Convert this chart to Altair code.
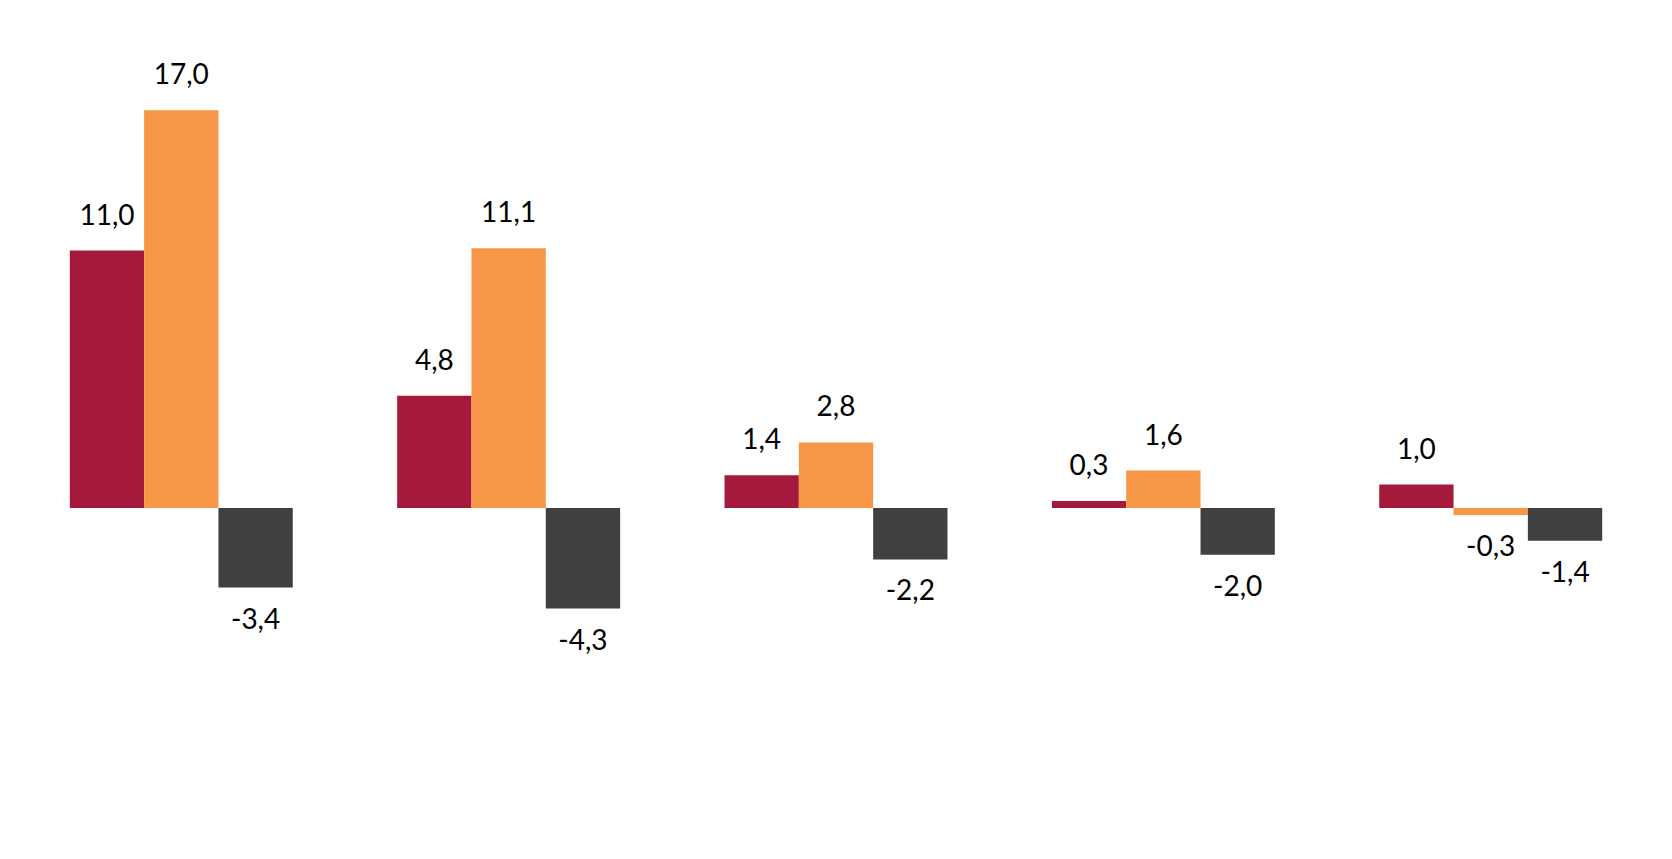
import altair as alt
import pandas as pd

categories = ["Bens de consumo duráveis", "Bens de capital", "Indústria geral",
              "Bens intermediários", "Bens de consumo semi e\nnão duráveis"]
series = ["1º Tri/2017", "1º Tri/2018", "1º Tri/2019"]
v2017 = [11.0, 4.8, 1.4, 0.3, 1.0]
v2018 = [17.0, 11.1, 2.8, 1.6, -0.3]
v2019 = [-3.4, -4.3, -2.2, -2.0, -1.4]
colors = ["#A5193C", "#F79646", "#404040"]

rows = []
for s, vals in zip(series, [v2017, v2018, v2019]):
    for c, v in zip(categories, vals):
        rows.append({"cat": c, "serie": s, "valor": v,
                     "rotulo": f"{v:.1f}".replace(".", ",")})
df = pd.DataFrame(rows)
df_pos = df[df["valor"] >= 0].reset_index(drop=True)
df_neg = df[df["valor"] < 0].reset_index(drop=True)

W, H = 1656, 733
FONT = "Lato"

xenc = alt.X("cat:N", title=None, axis=None,
             scale=alt.Scale(domain=categories, paddingInner=0.3189, paddingOuter=0.1888))
xoff = alt.XOffset("serie:N", scale=alt.Scale(domain=series))
yenc = alt.Y("valor:Q", axis=None,
             scale=alt.Scale(domain=[-9.96, 21.37], nice=False))

bars = alt.Chart(df).mark_bar().encode(
    x=xenc, xOffset=xoff, y=yenc,
    color=alt.Color("serie:N", scale=alt.Scale(domain=series, range=colors), legend=None))

pos = alt.Chart(df_pos).mark_text(
    font=FONT, fontSize=28, color="#000000", baseline="middle", dy=-34).encode(
    x=xenc, xOffset=xoff, y=yenc, text="rotulo:N")
neg = alt.Chart(df_neg).mark_text(
    font=FONT, fontSize=28, color="#000000", baseline="middle", dy=33).encode(
    x=xenc, xOffset=xoff, y=yenc, text="rotulo:N")

chart = alt.layer(bars, pos, neg).properties(
    width=W, height=H, padding=0,
).configure_view(strokeWidth=0)

chart.save("out.html", embed_options={"renderer": "svg", "actions": False})
